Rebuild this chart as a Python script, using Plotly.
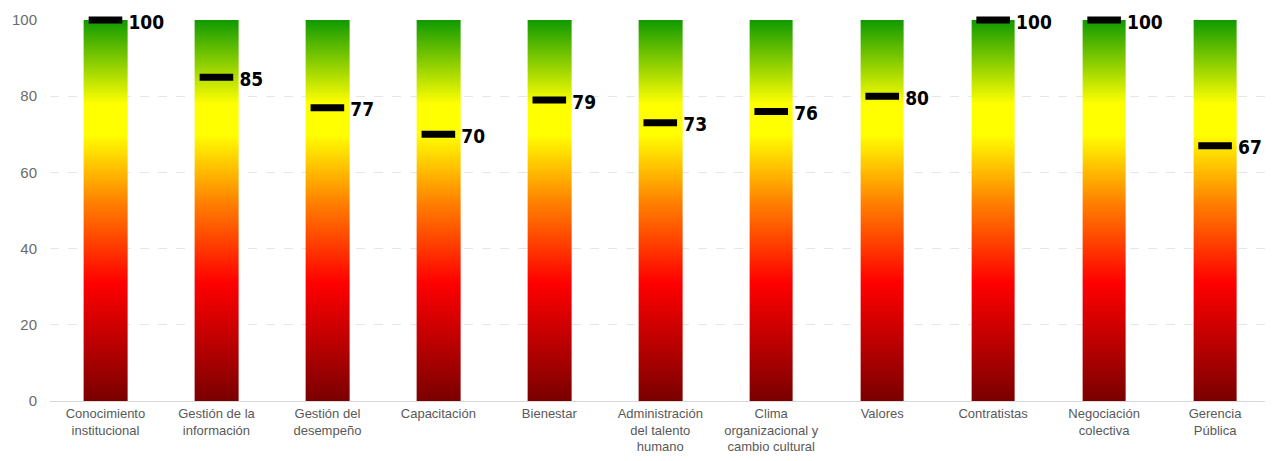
import numpy as np
import plotly.graph_objects as go

categories = ["Conocimiento<br>institucional", "Gestión de la<br>información", "Gestión del<br>desempeño",
              "Capacitación", "Bienestar", "Administración<br>del talento<br>humano",
              "Clima<br>organizacional y<br>cambio cultural", "Valores", "Contratistas",
              "Negociación<br>colectiva", "Gerencia<br>Pública"]
values = [100, 85, 77, 70, 79, 73, 76, 80, 100, 100, 67]
scale_max = [100] * 11
y_ticks = [0, 20, 40, 60, 80, 100]

gauge_scale = [[0.0, "#7a0000"], [0.31, "#ff0000"], [0.52, "#ff8000"],
               [0.70, "#ffff00"], [0.78, "#ffff00"], [1.0, "#109a00"]]

n = len(categories)
half_w = 0.197
edges = []
for i in range(n):
    edges += [i - half_w, i + half_w]
nrows = 250
y_edges = np.linspace(0, max(scale_max), nrows + 1)
y_mid = (y_edges[:-1] + y_edges[1:]) / 2
z = []
for yv in y_mid:
    row = []
    for i in range(n):
        row.append(yv if yv <= scale_max[i] else None)
        if i < n - 1:
            row.append(None)
    z.append(row)

fig = go.Figure()
fig.add_trace(go.Heatmap(x=edges, y=y_edges, z=z, colorscale=gauge_scale, zmin=0, zmax=100,
                         showscale=False, hoverinfo="skip"))
fig.add_trace(go.Scatter(x=list(range(n)), y=values, mode="markers", cliponaxis=False,
                         marker=dict(symbol="line-ew", size=24, line=dict(width=7, color="black")),
                         hoverinfo="skip"))
fig.add_trace(go.Scatter(x=[i + half_w + 0.01 for i in range(n)], y=[v - 1 for v in values], mode="text",
                         cliponaxis=False,
                         text=[str(v) for v in values], textposition="middle right",
                         textfont=dict(family="Liberation Sans Narrow, DejaVu Sans Condensed, Roboto Condensed, Liberation Sans",
                                       size=19, color="black", weight="bold"),
                         hoverinfo="skip"))

fig.update_layout(
    width=1257, height=445, paper_bgcolor="white", plot_bgcolor="white",
    margin=dict(l=42, r=0, t=12, b=52), showlegend=False,
    xaxis=dict(range=[-0.5, 10.45], tickvals=list(range(n)), ticktext=categories, automargin=False,
               showgrid=False, zeroline=False, showline=True, linecolor="#d9d9d9", linewidth=1,
               ticks="",
               tickfont=dict(family="Liberation Sans, Arial", size=13, color="#595959")),
    yaxis=dict(range=[0, 100], tickvals=y_ticks, showgrid=True, gridcolor="#e6e6e6", griddash="dash",
               zeroline=False, showline=False, ticks="", ticklabelstandoff=12, automargin=False,
               tickfont=dict(family="Liberation Sans, Arial", size=15, color="#6b6b6b")),
)
fig.write_html("out.html")
